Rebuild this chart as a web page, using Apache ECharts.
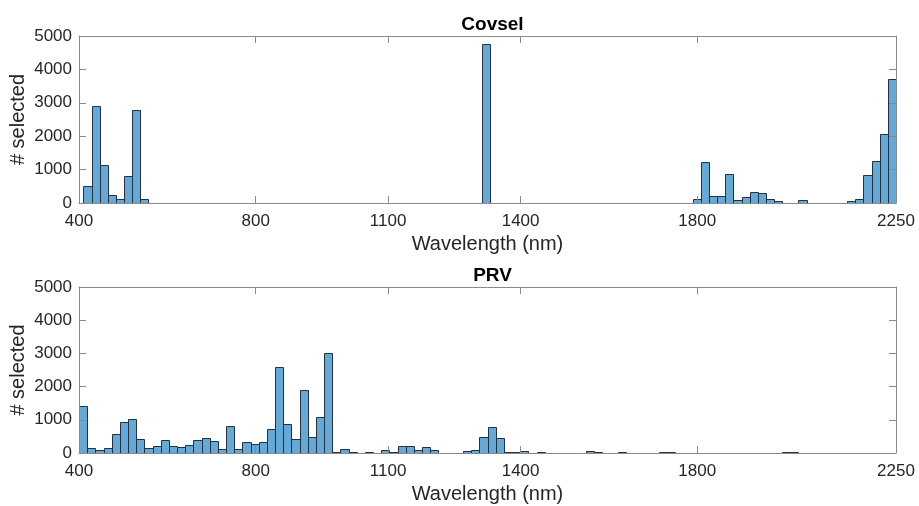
<!DOCTYPE html>
<html>
<head>
<meta charset="utf-8">
<script src="https://cdn.jsdelivr.net/npm/echarts@6/dist/echarts.min.js"></script>
<style>
html,body{margin:0;padding:0;background:#fff;}
#chart{width:919px;height:506px;}
</style>
</head>
<body>
<div id="chart"></div>
<script>
// ---- data ----
const xTicks = [400, 800, 1100, 1400, 1800, 2250];
const yTicks = [0, 1000, 2000, 3000, 4000, 5000];

// Covsel histogram: 100 bins, first edge 410 nm, bin width 18.4 nm
const covselStart = 410;
const covselWidth = 18.4;
const covselCounts = [
  520, 2900, 1130, 250, 125, 800, 2780, 120, 0, 0,
  0, 0, 0, 0, 0, 0, 0, 0, 0, 0,
  0, 0, 0, 0, 0, 0, 0, 0, 0, 0,
  0, 0, 0, 0, 0, 0, 0, 0, 0, 0,
  0, 0, 0, 0, 0, 0, 0, 0, 0, 4750,
  0, 0, 0, 0, 0, 0, 0, 0, 0, 0,
  0, 0, 0, 0, 0, 0, 0, 0, 0, 0,
  0, 0, 0, 0, 0, 120, 1240, 195, 195, 870,
  75, 165, 340, 290, 125, 65, 0, 0, 80, 0,
  0, 0, 0, 0, 45, 125, 840, 1270, 2060, 3700
];

// PRV histogram: 100 bins, first edge 400 nm, bin width 18.5 nm
const prvStart = 400;
const prvWidth = 18.5;
const prvCounts = [
  1410, 165, 105, 165, 560, 920, 1030, 425, 165, 205,
  385, 215, 175, 245, 405, 445, 355, 125, 815, 125,
  335, 285, 340, 730, 2590, 880, 410, 1910, 490, 1070,
  3020, 35, 110, 20, 0, 20, 0, 100, 20, 210,
  210, 100, 190, 80, 15, 15, 15, 70, 90, 470,
  790, 450, 20, 40, 50, 0, 20, 10, 0, 0,
  0, 0, 65, 35, 0, 0, 40, 0, 0, 10,
  0, 30, 30, 0, 0, 0, 0, 0, 0, 0,
  0, 0, 0, 10, 0, 0, 20, 30, 0, 0,
  0, 0, 10, 0, 0, 0, 0, 0, 0, 0
];

const titles = ['Covsel', 'PRV'];
const xName = 'Wavelength (nm)';
const yName = '# selected';

// ---- build ----
function bins(start, width, counts) {
  const out = [];
  counts.forEach((c, k) => {
    if (c > 0) out.push([start + k * width, start + (k + 1) * width, c]);
  });
  return out;
}

const FONT = '"Liberation Sans", Arial, Helvetica, sans-serif';
const AX = '#8a8a8a';
const TXT = '#262626';
const gridDefs = [
  { left: 79, right: 23, top: 36, height: 167, containLabel: false, outerBoundsMode: 'none' },
  { left: 79, right: 23, top: 287, height: 166, containLabel: false, outerBoundsMode: 'none' }
];

const chart = echarts.init(document.getElementById('chart'), null, { renderer: 'canvas' });
const plain = v => String(v);

const xAxes = [], yAxes = [], series = [], title = [];
gridDefs.forEach((g, i) => {
  xAxes.push({
    type: 'value', gridIndex: i, min: 400, max: 2250, position: 'bottom', z: 5,
    name: xName, nameLocation: 'middle', nameGap: 31, nameMoveOverlap: false,
    nameTextStyle: { fontFamily: FONT, fontSize: 20, color: TXT },
    axisLine: { show: true, onZero: false, lineStyle: { color: AX, width: 1 } },
    axisTick: { show: true, inside: true, length: 7, customValues: xTicks, lineStyle: { color: AX } },
    axisLabel: { show: true, customValues: xTicks, formatter: plain, margin: 10, fontFamily: FONT, fontSize: 17, color: TXT },
    splitLine: { show: false }
  });
  xAxes.push({
    type: 'value', gridIndex: i, min: 400, max: 2250, position: 'top', z: 5,
    axisLine: { show: true, onZero: false, lineStyle: { color: AX, width: 1 } },
    axisTick: { show: true, inside: true, length: 7, customValues: xTicks, lineStyle: { color: AX } },
    axisLabel: { show: false },
    splitLine: { show: false }
  });
  yAxes.push({
    type: 'value', gridIndex: i, min: 0, max: 5000, interval: 1000, position: 'left', z: 5,
    name: yName, nameLocation: 'middle', nameGap: 51, nameRotate: 90, nameMoveOverlap: false,
    nameTextStyle: { fontFamily: FONT, fontSize: 20, color: TXT },
    axisLine: { show: true, lineStyle: { color: AX, width: 1 } },
    axisTick: { show: true, inside: true, length: 7, lineStyle: { color: AX } },
    axisLabel: { show: true, customValues: yTicks, formatter: plain, margin: 7, fontFamily: FONT, fontSize: 17, color: TXT },
    splitLine: { show: false }
  });
  yAxes.push({
    type: 'value', gridIndex: i, min: 0, max: 5000, interval: 1000, position: 'right', z: 5,
    axisLine: { show: true, lineStyle: { color: AX, width: 1 } },
    axisTick: { show: true, inside: true, length: 7, lineStyle: { color: AX } },
    axisLabel: { show: false },
    splitLine: { show: false }
  });
  title.push({
    text: titles[i], left: 79 + (919 - 79 - 23) / 2, textAlign: 'center',
    top: i === 0 ? 10 : 261,
    textStyle: { fontFamily: FONT, fontSize: 19, fontWeight: 'bold', color: '#000' }
  });
});

const datasets = [bins(covselStart, covselWidth, covselCounts), bins(prvStart, prvWidth, prvCounts)];
datasets.forEach((d, i) => {
  series.push({
    type: 'custom', xAxisIndex: i * 2, yAxisIndex: i * 2, z: 2,
    clip: true,
    data: d,
    renderItem: function (params, api) {
      const p0 = api.coord([api.value(0), api.value(2)]);
      const p1 = api.coord([api.value(1), 0]);
      const x0 = Math.round(p0[0]) + 0.5, x1 = Math.round(p1[0]) + 0.5;
      const y0 = Math.round(p0[1]) + 0.5, y1 = Math.round(p1[1]) + 0.5;
      return {
        type: 'rect',
        shape: { x: x0, y: y0, width: x1 - x0, height: y1 - y0 },
        style: { fill: '#64a9d8', stroke: '#25313d', lineWidth: 1 }
      };
    }
  });
});

chart.setOption({
  animation: false,
  backgroundColor: '#ffffff',
  title: title,
  grid: gridDefs,
  xAxis: xAxes,
  yAxis: yAxes,
  series: series
});
</script>
</body>
</html>
